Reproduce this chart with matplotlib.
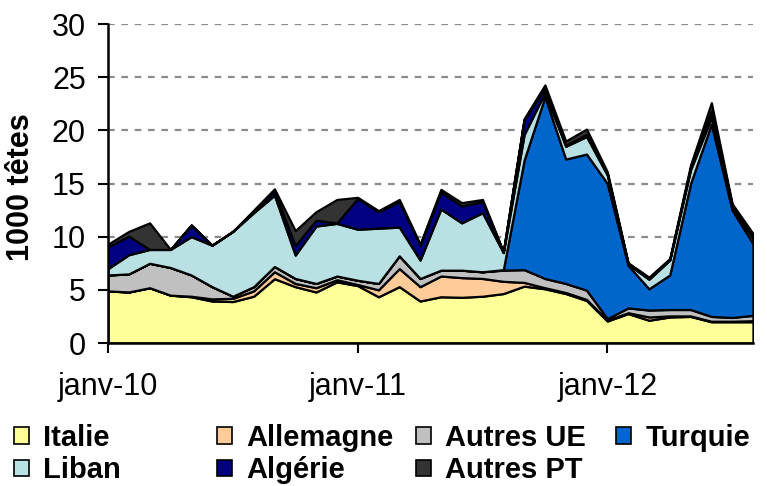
import numpy as np
import matplotlib
matplotlib.use("Agg")
import matplotlib.pyplot as plt
from matplotlib.patches import Patch

# monthly data, janv-10 .. août-12 (1000 têtes)
tick_pos = [0, 12, 24]
tick_labels = ["janv-10", "janv-11", "janv-12"]

italie = [4.9, 4.8, 5.2, 4.5, 4.35, 3.95, 3.9, 4.4, 6.05, 5.3, 4.8, 5.75,
          5.4, 4.35, 5.3, 3.95, 4.35, 4.3, 4.4, 4.65, 5.35, 5.1, 4.65, 4.0,
          2.07, 2.77, 2.14, 2.45, 2.5, 2.0, 2.0, 2.0]
allemagne = [0.0, 0.0, 0.0, 0.0, 0.05, 0.2, 0.3, 0.5, 0.65, 0.3, 0.4, 0.2,
             0.1, 0.65, 1.7, 1.35, 1.95, 1.85, 1.67, 1.15, 0.35, 0.1, 0.1, 0.1,
             0.08, 0.08, 0.31, 0.1, 0.05, 0.05, 0.05, 0.1]
autres_ue = [1.5, 1.7, 2.3, 2.6, 2.0, 1.15, 0.2, 0.4, 0.5, 0.47, 0.4, 0.35,
             0.4, 0.6, 1.2, 0.77, 0.55, 0.7, 0.63, 1.05, 1.2, 0.87, 0.85, 0.87,
             0.15, 0.45, 0.65, 0.6, 0.6, 0.45, 0.35, 0.5]
turquie = [0, 0, 0, 0, 0, 0, 0, 0, 0, 0, 0, 0,
           0, 0, 0, 0, 0, 0, 0, 0.05, 10.3, 17.1, 11.7, 12.8,
           12.7, 4.0, 2.0, 3.25, 11.85, 18.1, 10.1, 6.75]
liban = [0.6, 1.8, 1.3, 1.7, 3.6, 3.9, 6.1, 6.95, 6.7, 2.2, 5.4, 4.95,
         4.8, 5.2, 2.7, 1.73, 5.75, 4.45, 5.55, 1.6, 2.4, 0.4, 1.2, 1.65,
         0.8, 0.1, 0.9, 1.4, 1.3, 0.6, 0.3, 0.45]
algerie = [2.05, 1.75, 0.0, 0.0, 1.1, 0.0, 0.0, 0.15, 0.4, 0.9, 0.55, 0.05,
           2.9, 1.55, 2.4, 1.4, 1.6, 1.6, 1.05, 0.05, 1.4, 0.4, 0.1, 0.2,
           0.1, 0.05, 0.05, 0.05, 0.2, 0.6, 0.15, 0.2]
autres_pt = [0.25, 0.45, 2.5, 0.0, 0.0, 0.0, 0.0, 0.1, 0.2, 1.4, 0.8, 2.2,
             0.1, 0.1, 0.2, 0.1, 0.25, 0.3, 0.2, 0.05, 0.1, 0.3, 0.4, 0.5,
             0.2, 0.1, 0.15, 0.1, 0.25, 0.8, 0.15, 0.3]

names = ["Italie", "Allemagne", "Autres UE", "Turquie", "Liban", "Algérie", "Autres PT"]
colors = ["#FFFF99", "#FFCC99", "#C0C0C0", "#0066CC", "#B9E0E3", "#000080", "#333333"]
series = [italie, allemagne, autres_ue, turquie, liban, algerie, autres_pt]

tick_font = ["Liberation Sans Narrow", "Liberation Sans"]
bold_font = ["Liberation Sans", "DejaVu Sans"]

fig = plt.figure(figsize=(7.67, 4.86), dpi=100)
ax = fig.add_axes([0.1408, 0.2942, 0.8409, 0.6564])

x = np.arange(len(italie))
ax.stackplot(x, *series, colors=colors, edgecolor="black", linewidth=1.6)

ax.set_xlim(0, len(italie) - 1)
ax.set_ylim(0, 30)
ax.set_yticks(np.arange(0, 31, 5))
ax.set_xticks(tick_pos)
ax.set_xticklabels(tick_labels)
for lab in ax.get_xticklabels() + ax.get_yticklabels():
    lab.set_family(tick_font)
    lab.set_fontsize(22)
ax.tick_params(axis="x", length=7, width=1.5, pad=14, direction="out")
ax.tick_params(axis="y", length=7, width=1.5, pad=9, direction="out")

# dashed gridlines
for y in range(5, 31, 5):
    ax.axhline(y, color="#8C8C8C", linestyle=(0, (3, 3)), linewidth=1.6, zorder=0)

for s in ["top", "right"]:
    ax.spines[s].set_visible(False)
for s in ["left", "bottom"]:
    ax.spines[s].set_linewidth(1.8)
    ax.spines[s].set_zorder(5)

ax.set_ylabel("1000 têtes", family=bold_font, fontsize=22, fontweight="bold")
ax.yaxis.set_label_coords(-0.112, 0.49)

# legend, one column at a time so spacing matches
handles = [Patch(facecolor=c, edgecolor="black", linewidth=1.2) for c in colors]
cols = [[0, 4], [1, 5], [2, 6], [3]]
col_x = [14, 217, 416, 616]
for idx, cx in zip(cols, col_x):
    fig.legend([handles[i] for i in idx], [names[i] for i in idx],
               loc="upper left", bbox_to_anchor=(cx / 767, 1 - 424 / 486),
               frameon=False, borderpad=0, borderaxespad=0,
               handlelength=0.5, handleheight=0.5, handletextpad=0.5,
               labelspacing=0.15,
               prop={"family": bold_font, "weight": "bold", "size": 21})

fig.savefig("out.png", dpi=100)
